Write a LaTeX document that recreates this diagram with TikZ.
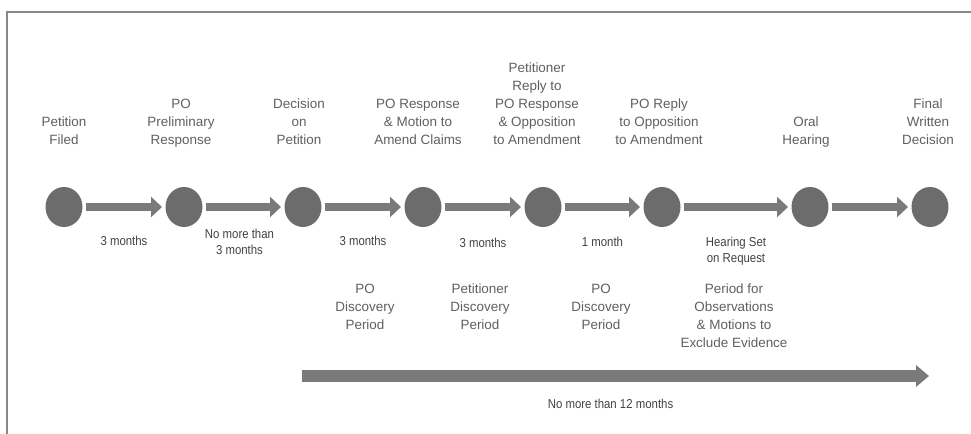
\documentclass[tikz,border=0pt]{standalone}
\usepackage{fontspec}
\setmainfont{Liberation Sans}
\newfontfamily\narrowfont{Liberation Sans}[FakeStretch=0.88]
\usetikzlibrary{arrows.meta}
\usetikzlibrary{shapes.geometric}
\usetikzlibrary{positioning}

\definecolor{dotgray}{RGB}{108,108,108}
\definecolor{arrowgray}{RGB}{122,122,122}
\definecolor{textgray}{RGB}{96,96,96}
\definecolor{smallgray}{RGB}{66,66,66}
\definecolor{framegray}{RGB}{135,135,135}

\tikzset{
  event/.style={ellipse, fill=dotgray, minimum width=37bp, minimum height=40bp, inner sep=0pt, outer sep=3.5bp},
  stepline/.style={draw=arrowgray, line width=8bp, -{Triangle[length=11bp,width=20bp]}},
  spanline/.style={draw=arrowgray, line width=12bp, -{Triangle[length=13bp,width=21bp]}},
  toplabel/.style={align=center, font=\fontsize{13.5}{18}\selectfont, text=textgray, inner sep=0pt, anchor=south, text depth=0pt},
  periodlabel/.style={align=center, font=\fontsize{13.5}{18}\selectfont, text=textgray, inner sep=0pt, anchor=north},
  smalllabel/.style={align=center, font=\narrowfont\fontsize{13}{16}\selectfont, text=smallgray, inner sep=0pt}
}

\begin{document}
\begin{tikzpicture}[x=1bp,y=-1bp]
    \useasboundingbox (0,0) rectangle (971,434);
    \fill[white] (0,0) rectangle (971,434);
    \draw[framegray, line width=1.5bp] (7,434) -- (7,12) -- (971,12);

    % events on the time line
    \node[event] (filed) at (64,207) {};
    \node[event] (prelim) at (184,207) {};
    \node[event] (decision) at (303,207) {};
    \node[event] (response) at (423,207) {};
    \node[event] (reply) at (543,207) {};
    \node[event] (poreply) at (662,207) {};
    \node[event] (hearing) at (810,207) {};
    \node[event] (final) at (930,207) {};

    % what happens at each event
    \node[toplabel] (filedtxt) at (64,144.5) {Petition\\Filed};
    \node[toplabel] (prelimtxt) at (181,144.5) {PO\\Preliminary\\Response};
    \node[toplabel] (decisiontxt) at (299,144.5) {Decision\\on\\Petition};
    \node[toplabel] (responsetxt) at (418,144.5) {PO Response\\\& Motion to\\Amend Claims};
    \node[toplabel] (replytxt) at (537,144.5) {Petitioner\\Reply to\\PO Response\\\& Opposition\\to Amendment};
    \node[toplabel] (poreplytxt) at (659,144.5) {PO Reply\\to Opposition\\to Amendment};
    \node[toplabel] (hearingtxt) at (806,144.5) {Oral\\Hearing};
    \node[toplabel] (finaltxt) at (928,144.5) {Final\\Written\\Decision};

    % steps with their time limits
    \draw[stepline] (filed) -- node[smalllabel, below=25bp] (step1) {3 months} (prelim);
    \draw[stepline] (prelim) -- node[smalllabel, below=18bp, xshift=-4bp] (step2) {No more than\\3 months} (decision);
    \draw[stepline] (decision) -- node[smalllabel, below=25bp] (step3) {3 months} (response);
    \draw[stepline] (response) -- node[smalllabel, below=27bp] (step4) {3 months} (reply);
    \draw[stepline] (reply) -- node[smalllabel, below=26bp] (step5) {1 month} (poreply);
    \draw[stepline] (poreply) -- node[smalllabel, below=26bp] (step6) {Hearing Set\\on Request} (hearing);
    \draw[stepline] (hearing) -- (final);

    % periods
    \node[periodlabel] (podisc) at (365,284) {PO\\Discovery\\Period};
    \node[periodlabel] (petdisc) at (480,284) {Petitioner\\Discovery\\Period};
    \node[periodlabel] (podisc2) at (601,284) {PO\\Discovery\\Period};
    \node[periodlabel] (observ) at (734,284) {Period for\\Observations\\\& Motions to\\Exclude Evidence};

    % overall limit
    \coordinate (spanstart) at (302,376);
    \coordinate (spanend) at (929,376);
    \draw[spanline] (spanstart) -- node[smalllabel, below=17bp, xshift=-5bp] (spantxt) {No more than 12 months} (spanend);
\end{tikzpicture}
\end{document}
